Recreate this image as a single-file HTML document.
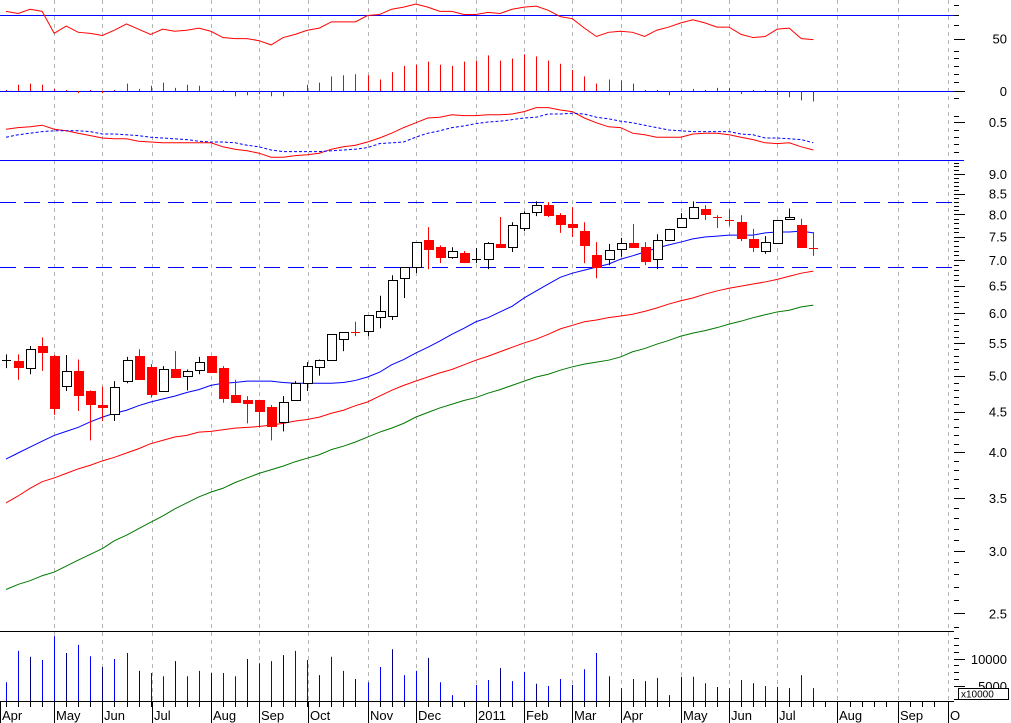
<!DOCTYPE html>
<html><head><meta charset="utf-8">
<style>
html,body{margin:0;padding:0;background:#fff;width:1011px;height:723px;overflow:hidden}
svg{display:block;font-family:"Liberation Sans",sans-serif}
</style></head>
<body>
<svg id="chart" width="1011" height="723" viewBox="0 0 1011 723" xmlns="http://www.w3.org/2000/svg"></svg>
<script>
// ---- data ----
const opens  = [5.22,5.22,5.11,5.45,5.29,4.85,5.07,4.78,4.59,4.47,4.92,5.29,5.12,4.78,5.09,5.00,5.08,5.29,5.11,4.72,4.66,4.66,4.56,4.37,4.66,4.90,5.12,5.24,5.56,5.68,5.70,5.93,5.95,6.64,6.86,7.42,7.27,7.07,7.15,7.01,7.02,7.34,7.27,7.69,8.05,8.22,7.98,7.78,7.62,7.11,7.02,7.23,7.36,7.27,7.02,7.42,7.71,7.92,8.12,7.93,7.86,7.83,7.45,7.19,7.36,7.90,7.76,7.26];
const highs  = [5.32,5.32,5.45,5.59,5.31,5.31,5.24,4.79,4.84,4.92,5.28,5.40,5.17,5.14,5.37,5.09,5.28,5.29,5.14,4.94,4.71,4.66,4.59,4.71,4.92,5.20,5.24,5.64,5.67,5.85,5.96,6.31,6.70,6.86,7.38,7.71,7.31,7.27,7.19,7.25,7.38,7.94,7.82,8.07,8.31,8.29,8.03,8.17,7.82,7.38,7.34,7.47,7.78,7.38,7.55,7.67,8.03,8.31,8.22,7.98,8.12,7.98,7.67,7.51,7.87,8.14,7.90,7.60];
const lows   = [5.11,4.94,5.02,5.07,4.46,4.78,4.51,4.14,4.38,4.38,4.89,4.94,4.69,4.78,4.97,4.79,5.02,5.04,4.62,4.62,4.35,4.30,4.14,4.25,4.66,4.78,5.00,5.23,5.37,5.61,5.61,5.74,5.88,6.27,6.74,6.82,6.94,7.03,6.94,6.94,6.82,7.27,7.17,7.62,7.96,7.94,7.58,7.49,6.94,6.64,6.90,7.07,7.27,6.90,6.82,7.40,7.71,7.90,7.87,7.69,7.74,7.40,7.17,7.13,7.36,7.90,7.27,7.09];
const closes = [5.23,5.12,5.40,5.36,4.55,5.07,4.72,4.60,4.56,4.84,5.24,4.95,4.74,5.09,4.98,5.07,5.20,5.05,4.69,4.63,4.62,4.51,4.32,4.63,4.89,5.14,5.24,5.64,5.67,5.66,5.96,6.03,6.61,6.86,7.38,7.23,7.07,7.19,6.96,7.02,7.36,7.27,7.76,8.03,8.22,7.98,7.78,7.71,7.32,6.86,7.21,7.36,7.27,6.98,7.42,7.67,7.92,8.17,8.01,7.91,7.84,7.47,7.27,7.38,7.87,7.94,7.27,7.24];
const maBlue  = [3.92,3.99,4.06,4.13,4.20,4.25,4.30,4.37,4.43,4.48,4.52,4.58,4.63,4.67,4.71,4.76,4.80,4.86,4.89,4.90,4.92,4.92,4.92,4.90,4.89,4.89,4.89,4.89,4.90,4.93,4.98,5.05,5.16,5.24,5.34,5.43,5.53,5.64,5.74,5.85,5.92,6.02,6.12,6.27,6.40,6.53,6.66,6.74,6.80,6.86,6.92,7.02,7.09,7.17,7.25,7.32,7.38,7.45,7.49,7.51,7.53,7.53,7.53,7.58,7.60,7.60,7.62,7.58];
const maRed   = [3.45,3.52,3.60,3.67,3.71,3.76,3.81,3.85,3.90,3.94,3.99,4.04,4.10,4.14,4.18,4.20,4.24,4.25,4.27,4.29,4.30,4.31,4.33,4.35,4.38,4.40,4.43,4.48,4.52,4.58,4.63,4.71,4.79,4.86,4.92,4.98,5.04,5.09,5.16,5.23,5.29,5.36,5.43,5.50,5.56,5.64,5.73,5.79,5.85,5.88,5.92,5.95,5.98,6.03,6.09,6.16,6.22,6.27,6.34,6.40,6.45,6.49,6.53,6.57,6.62,6.68,6.74,6.78];
const maGreen = [2.68,2.72,2.75,2.79,2.82,2.87,2.92,2.97,3.02,3.09,3.14,3.20,3.26,3.32,3.39,3.45,3.51,3.56,3.60,3.66,3.71,3.76,3.80,3.84,3.89,3.93,3.97,4.03,4.07,4.12,4.18,4.24,4.29,4.35,4.43,4.49,4.55,4.60,4.65,4.69,4.75,4.80,4.86,4.92,4.98,5.02,5.08,5.13,5.17,5.20,5.23,5.28,5.36,5.41,5.48,5.54,5.61,5.66,5.70,5.75,5.81,5.86,5.92,5.97,6.02,6.05,6.11,6.14];
const rsi = [76,74,78,76,55,62,56,55,53,58,64,59,54,59,57,58,60,57,51,50,50,48,44,51,54,58,60,66,66,66,72,73,78,80,83,80,76,76,73,73,75,74,78,80,81,77,71,69,60,52,56,57,56,52,58,61,65,68,65,61,61,54,51,52,59,60,50,49];
const momentum = [0,6,7,6,2,0,-2,0,-2,0,7,2,5,8,3,6,5,1,0,-5,-4,-3,-5,-5,-1,6,8,14,15,16,15,11,18,24,25,28,25,24,28,29,34,29,31,35,33,29,26,20,14,7,11,10,7,0,0,-4,0,2,1,3,3,-3,0,0,-4,-6,-9,-10];
const oscRed  = [0.41,0.43,0.44,0.46,0.41,0.39,0.36,0.33,0.30,0.29,0.29,0.26,0.25,0.24,0.24,0.24,0.24,0.24,0.19,0.16,0.14,0.11,0.06,0.06,0.08,0.09,0.11,0.16,0.19,0.21,0.25,0.30,0.36,0.43,0.49,0.55,0.56,0.59,0.58,0.58,0.59,0.59,0.60,0.63,0.68,0.68,0.65,0.63,0.55,0.49,0.44,0.43,0.36,0.34,0.31,0.31,0.31,0.35,0.36,0.36,0.34,0.31,0.28,0.24,0.23,0.24,0.19,0.15];
const oscBlue = [0.31,0.34,0.36,0.38,0.39,0.39,0.39,0.38,0.35,0.35,0.34,0.33,0.31,0.30,0.29,0.28,0.26,0.25,0.25,0.24,0.21,0.19,0.15,0.13,0.13,0.13,0.13,0.14,0.15,0.16,0.18,0.23,0.24,0.25,0.31,0.36,0.39,0.43,0.45,0.48,0.50,0.51,0.53,0.55,0.56,0.60,0.60,0.61,0.60,0.56,0.54,0.51,0.49,0.46,0.43,0.40,0.39,0.38,0.38,0.38,0.38,0.35,0.34,0.30,0.30,0.29,0.28,0.24];
const volumes = [5700,11500,10400,9800,14200,11100,12600,10500,8500,10000,11100,7800,7400,6800,9600,6800,7800,7400,7400,6800,10000,9200,9600,10700,11500,9800,7000,10400,7800,6300,5700,8500,11800,7000,7800,10200,5700,3300,1500,5200,6100,8300,5900,7600,5400,5000,6300,5200,8100,11100,6800,4600,6300,5900,6500,3300,6700,6700,5500,4800,4600,6100,5500,5000,4800,4600,7000,4600];
const monthLabels = ["Apr","May","Jun","Jul","Aug","Sep","Oct","Nov","Dec","2011","Feb","Mar","Apr","May","Jun","Jul","Aug","Sep","O"];
const monthWeek   = [-0.5,4,8,12.1,17,21,25.1,30,34,39,43,47,51,56,60,64,69,74,78.2];
const priceTicks = [9.0,8.5,8.0,7.5,7.0,6.5,6.0,5.5,5.0,4.5,4.0,3.5,3.0,2.5];
const levelLines = [8.30,6.86];
const rsiTicks = [50,0];
const oscTicks = [0.5];
const volTicks = [10000,5000];

// ---- scales ----
const NS="http://www.w3.org/2000/svg";
const svg=document.getElementById('chart');
const X0=6, DX=12.05;
const xAt=i=>X0+DX*i;
const yPrice=p=>174+343*Math.log(9/p);
const yRsi=v=>91-v*1.048;
const yOsc=v=>122-(v-0.5)*80;
const yVol=v=>713-v/185;
function el(tag,attrs,parent){const e=document.createElementNS(NS,tag);for(const k in attrs)e.setAttribute(k,attrs[k]);(parent||svg).appendChild(e);return e;}

const grid=el('g',{});


monthWeek.forEach((w,i)=>{ if(i===0) return; const gx=Math.round(xAt(w))+0.5;
  const l=el('line',{x1:gx,y1:0,x2:gx,y2:701,stroke:'#b4b4b4','stroke-dasharray':'4,4','stroke-width':1},grid);
  
  
});

function hline(y,x2,color,name,dash){const l=el('line',{x1:0,y1:y+0.5,x2:x2,y2:y+0.5,stroke:color,'stroke-width':1});if(dash)l.setAttribute('stroke-dasharray',dash);
  
  
  return l;}
hline(Math.round(yRsi(72.5)),954,'#0000ff','rsi-overbought-line');
hline(91,964,'#0000ff','momentum-zero-line');
hline(160,964,'#0000ff','oscillator-bottom-line');
hline(631,954,'#000000','volume-top-line');
hline(701,954,'#000000','x-axis-line');
levelLines.forEach(p=>{hline(Math.round(yPrice(p)),954,'#0000ff','price-level-line','16,8');});

const rsiG=el('g',{});


momentum.forEach((v,i)=>{const x=Math.round(xAt(i))+0.5;
  const b=el('line',{x1:x,y1:91,x2:x,y2:yRsi(v),stroke:'#ff0000','stroke-width':1},rsiG);
  if(v===0){b.setAttribute('y2',90);}
  
  
});
const rsiLine=el('polyline',{points:rsi.map((v,i)=>xAt(i)+','+yRsi(v)).join(' '),fill:'none',stroke:'#ff0000','stroke-width':1},rsiG);



const oR=el('polyline',{points:oscRed.map((v,i)=>xAt(i)+','+yOsc(v)).join(' '),fill:'none',stroke:'#ff0000','stroke-width':1});


const oB=el('polyline',{points:oscBlue.map((v,i)=>xAt(i)+','+yOsc(v)).join(' '),fill:'none',stroke:'#0000ff','stroke-width':1,'stroke-dasharray':'3,2'});



const clip=el('clipPath',{id:'pc'});el('rect',{x:0,y:161,width:954,height:470},clip);
const pg=el('g',{'clip-path':'url(#pc)'});


[[maGreen,'#007800','ma-long-line'],[maRed,'#ff0000','ma-mid-line'],[maBlue,'#0000ff','ma-short-line']].forEach(([arr,c,n])=>{
  const l=el('polyline',{points:arr.map((v,i)=>xAt(i)+','+yPrice(v)).join(' '),fill:'none',stroke:c,'stroke-width':1},pg);
  
  
});
opens.forEach((o,i)=>{
  const c=closes[i], up=c>=o, col=up?'#000':'#ff0000';
  const x=Math.round(xAt(i));
  const g=el('g',{},pg);
  
  
  el('line',{x1:x+0.5,y1:yPrice(highs[i]),x2:x+0.5,y2:yPrice(lows[i]),stroke:col,'stroke-width':1},g);
  const yt=Math.round(yPrice(Math.max(o,c))), yb=Math.round(yPrice(Math.min(o,c)));
  const h=Math.max(yb-yt,0);
  if(h<2){ el('line',{x1:x-4,y1:yt+0.5,x2:x+5,y2:yt+0.5,stroke:col,'stroke-width':1},g); }
  else if(up){ el('rect',{x:x-4+0.5,y:yt+0.5,width:9,height:h,fill:'#fff',stroke:'#000','stroke-width':1},g); }
  else { el('rect',{x:x-4,y:yt,width:10,height:h+1,fill:'#ff0000'},g); }
});

volumes.forEach((v,i)=>{const x=Math.round(xAt(i))+0.5; const yt=Math.min(yVol(v),701);
  const b=el('line',{x1:x,y1:701,x2:x,y2:yt,stroke:(i%3===2?'#000080':'#0000ff'),'stroke-width':1});
  
  
});

for(let i=0;i<78;i++){const x=Math.round(xAt(i))+0.5;
  const t=el('line',{x1:x,y1:701,x2:x,y2:707,stroke:'#000','stroke-width':1});
  
  
}
monthLabels.forEach((m,i)=>{const x=Math.round(xAt(monthWeek[i]));
  el('line',{x1:x+0.5,y1:701,x2:x+0.5,y2:723,stroke:'#000','stroke-width':1});
  const t=el('text',{x:x+2,y:720,'font-size':13,fill:'#000'});t.textContent=m;
  
  
});

function ytick(y,major){el('line',{x1:954,y1:Math.round(y)+0.5,x2:major?965:959,y2:Math.round(y)+0.5,stroke:'#000','stroke-width':1});}
function ylabel(y,txt,name){const t=el('text',{x:1007,y:y+5,'font-size':13,'text-anchor':'end',fill:'#000'});t.textContent=txt;
  
  }
for(let p=2.4;p<=9.35;p+=0.1){const y=yPrice(p); if(y>161&&y<631) ytick(y,false);}
priceTicks.forEach(p=>{ytick(yPrice(p),true);ylabel(yPrice(p),p.toFixed(1),'price-axis-label');});
[5,15,25,51,58,66,74,82,98].forEach(y=>ytick(y,false));
rsiTicks.forEach(v=>{ytick(yRsi(v),true);ylabel(yRsi(v),String(v),'rsi-axis-label');});
[116,130,137,144,152].forEach(y=>ytick(y,false));
oscTicks.forEach(v=>{ytick(yOsc(v),true);ylabel(yOsc(v),v.toFixed(1),'oscillator-axis-label');});
[638,645,652,665,672,679,699].forEach(y=>ytick(y,false));
volTicks.forEach(v=>{ytick(yVol(v),true);ylabel(yVol(v),String(v),'volume-axis-label');});
const ub=el('rect',{x:958.5,y:688.5,width:50,height:11,fill:'#fff',stroke:'#000','stroke-width':1});


const ut=el('text',{x:961,y:697.5,'font-size':10,fill:'#000'});ut.textContent='x10000';


</script>
</body></html>
